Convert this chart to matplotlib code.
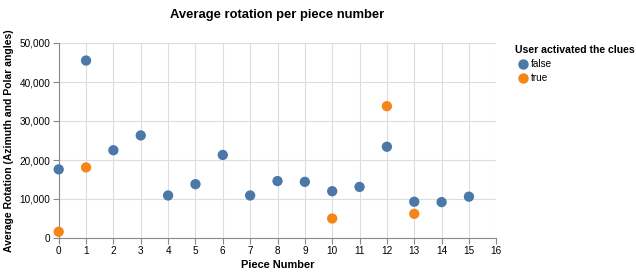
import matplotlib.pyplot as plt
import matplotlib.ticker as mticker
from matplotlib.lines import Line2D

plt.rcParams['font.family'] = ['Liberation Sans', 'DejaVu Sans']

# piece numbers and average rotation, split by whether clues were activated
pieces_false = [0, 1, 2, 3, 4, 5, 6, 7, 8, 9, 10, 11, 12, 13, 14, 15]
rotation_false = [17600, 45500, 22500, 26300, 10900, 13800, 21300, 10900,
                  14600, 14400, 12000, 13100, 23400, 9300, 9200, 10600]

pieces_true = [0, 1, 10, 12, 13]
rotation_true = [1600, 18100, 5000, 33800, 6200]

blue = '#4c78a8'
orange = '#f58518'
grid_col = '#dddddd'
axis_col = '#888888'

fig = plt.figure(figsize=(6.36, 2.73), dpi=100)
ax = fig.add_axes([58.7 / 636, 35 / 273, 437.6 / 636, 195 / 273])

ax.scatter(pieces_false, rotation_false, s=55, color=blue, edgecolors='none', zorder=3, clip_on=False)
ax.scatter(pieces_true, rotation_true, s=55, color=orange, edgecolors='none', zorder=3, clip_on=False)

ax.set_xlim(0, 16)
ax.set_ylim(0, 50000)
ax.set_xticks(range(0, 17))
ax.set_yticks(range(0, 50001, 10000))
ax.yaxis.set_major_formatter(mticker.FuncFormatter(lambda v, p: f'{int(v):,}'))

ax.grid(True, color=grid_col, linewidth=0.8, zorder=0)
ax.set_axisbelow(True)
for side in ['top', 'right']:
    ax.spines[side].set_visible(False)
for side in ['left', 'bottom']:
    ax.spines[side].set_color(axis_col)
    ax.spines[side].set_linewidth(0.8)
ax.tick_params(axis='both', colors=axis_col, length=4, width=0.8, labelsize=7.2,
               labelcolor='#000000', pad=2)

ax.set_xlabel('Piece Number', fontsize=7.9, fontweight='bold', labelpad=3)
ax.set_ylabel('Average Rotation (Azimuth and Polar angles)', fontsize=7.5, fontweight='bold', labelpad=4)
ax.set_title('Average rotation per piece number', fontsize=9.4, fontweight='bold', pad=18)

handles = [Line2D([], [], marker='o', linestyle='', markersize=7.5, color=blue, markeredgewidth=0),
           Line2D([], [], marker='o', linestyle='', markersize=7.5, color=orange, markeredgewidth=0)]
leg = fig.legend(handles, ['false', 'true'], title='User activated the clues',
                 loc='upper left', bbox_to_anchor=(510 / 636, 1 - 40 / 273),
                 frameon=False, fontsize=7.2, title_fontsize=7.6,
                 handletextpad=0.1, labelspacing=0.4, borderpad=0, handlelength=1.5)
leg.get_title().set_fontweight('bold')
leg._legend_box.align = 'left'

fig.savefig('out.png', dpi=100)
